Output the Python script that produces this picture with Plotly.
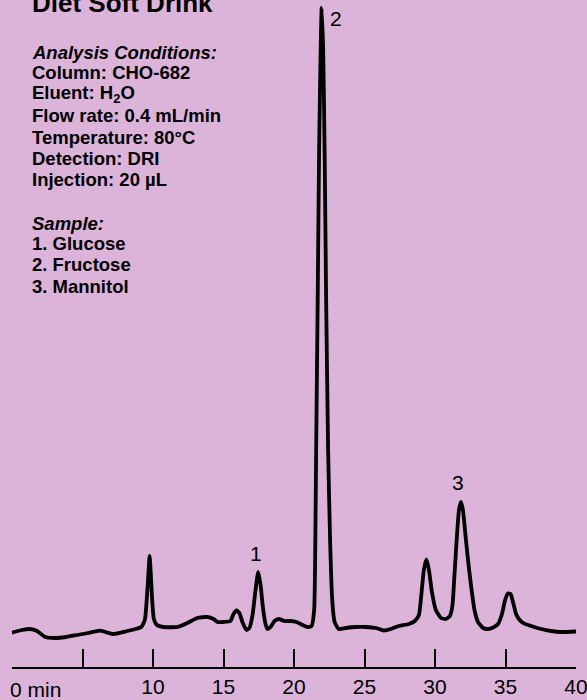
import plotly.graph_objects as go

# Chromatogram of a diet soft drink: retention time (min) vs detector response
time_min = [
    0.00, 0.71, 1.28, 1.78, 2.35, 3.06, 3.84, 4.62, 5.40, 6.25, 7.18, 8.17, 8.88,
    9.17, 9.42, 9.57, 9.69, 9.76, 9.83, 9.93, 10.06, 10.28, 10.75,
    11.73, 12.44, 13.15, 13.86, 14.29, 14.57, 15.00, 15.49, 15.71, 15.92, 16.13,
    16.34, 16.63, 16.84, 17.06, 17.27, 17.46, 17.63, 17.80, 17.98, 18.12, 18.34,
    18.62, 18.91, 19.33, 19.76, 20.18, 20.61, 20.97, 21.25,
    21.43, 21.50, 21.57, 21.68, 21.78, 21.89, 21.96, 22.07, 22.17, 22.28, 22.42,
    22.56, 22.71, 22.88, 23.17, 23.67, 24.38, 25.09, 25.80, 26.37, 26.87, 27.43,
    28.15, 28.57, 28.86, 29.03, 29.21, 29.39, 29.57, 29.78, 30.06, 30.42, 30.77,
    31.06, 31.24, 31.38, 31.56, 31.70, 31.84, 31.98, 32.16, 32.34, 32.55, 32.80,
    33.05, 33.41, 33.76, 34.12, 34.47, 34.75, 34.97, 35.18, 35.36, 35.55, 35.75,
    35.95, 36.25, 36.82, 37.53, 38.24, 38.95, 40.00,
]
response = [
    -2.7, 0, 1, -1, -7, -8, -7, -5, -3, -0.7, -4, -1, 1.5,
    3, 10, 33, 60, 74, 60, 33, 11, 5, 3,
    3, 7, 12, 13, 11, 8, 8, 9, 16, 19.5, 17,
    8, 0, 2, 15, 40, 58, 45, 22, 6, 1, 3,
    9, 11, 9, 9, 8, 5, 3, 4,
    20, 70, 180, 330, 480, 580, 622, 580, 480, 330, 180,
    90, 30, 8, 1, 2, 3, 3, 2, -0.5, 1, 4,
    6, 9, 15, 35, 60, 70.5, 60, 38, 20, 12, 11,
    14, 25, 55, 95, 120, 128, 120, 95, 70, 45, 20,
    8, 2, 1, 2.5, 6, 16, 30, 36.5, 36, 27, 16,
    11, 7, 4, 1, -1, -2, -1.5,
]

# Numbered peak labels: (time, height above peak, text)
peak_label_time = [17.34, 22.98, 31.63]
peak_label_y = [77, 612, 147.5]
peak_label_text = ["1", "2", "3"]

tick_vals = [0, 5, 10, 15, 20, 25, 30, 35, 40]
tick_text = ["", "", "10", "15", "20", "25", "30", "35", "40"]

title_text = "Diet Soft Drink"
info_lines = [
    ("<b><i>Analysis Conditions:</i></b>", 52),
    ("<b>Column: CHO-682</b>", 72.5),
    ("<b>Eluent: H<sub>2</sub>O</b>", 94),
    ("<b>Flow rate: 0.4 mL/min</b>", 115.7),
    ("<b>Temperature: 80°C</b>", 137),
    ("<b>Detection: DRI</b>", 158.7),
    ("<b>Injection: 20 µL</b>", 179.7),
    ("<b><i>Sample:</i></b>", 223),
    ("<b>1. Glucose</b>", 243.7),
    ("<b>2. Fructose</b>", 264.7),
    ("<b>3. Mannitol</b>", 286.3),
]

BG = "#DCB3D9"
FONT = "Liberation Sans, Arial, Helvetica, sans-serif"
W, H = 587, 700

fig = go.Figure()
fig.add_trace(go.Scatter(
    x=time_min, y=response, mode="lines",
    line=dict(color="black", width=3.8, shape="spline", smoothing=0.5),
    hoverinfo="skip", showlegend=False,
))

annotations = []
for t, y, txt in zip(peak_label_time, peak_label_y, peak_label_text):
    annotations.append(dict(
        x=t, y=y, xref="x", yref="y", text=txt, showarrow=False,
        xanchor="center", yanchor="middle",
        font=dict(family=FONT, size=21, color="black"),
    ))

# Title block and analysis conditions, positioned in pixels from the top-left
annotations.append(dict(
    x=0, y=1, xref="paper", yref="paper", xshift=18, yshift=-3,
    text="<b>" + title_text + "</b>", showarrow=False,
    xanchor="left", yanchor="middle",
    font=dict(family=FONT, size=26, color="black"),
))
for txt, cy in info_lines:
    annotations.append(dict(
        x=0, y=1, xref="paper", yref="paper", xshift=18, yshift=-cy,
        text=txt, showarrow=False, xanchor="left", yanchor="middle",
        font=dict(family=FONT, size=18.5, color="black"),
    ))

# "0 min" label starts at the first tick rather than being centred on it
annotations.append(dict(
    x=0, y=0, xref="x", yref="paper", xshift=-4, yshift=-22,
    text="0 min", showarrow=False, xanchor="left", yanchor="middle",
    font=dict(family=FONT, size=21, color="black"),
))

fig.update_layout(
    width=W, height=H,
    margin=dict(l=12, r=11, t=0, b=33),
    paper_bgcolor=BG, plot_bgcolor=BG,
    annotations=annotations,
    xaxis=dict(
        range=[0, 40], tickvals=tick_vals, ticktext=tick_text,
        showline=True, linecolor="black", linewidth=2,
        ticks="inside", ticklen=18, tickwidth=2, tickcolor="black",
        showgrid=False, zeroline=False, ticklabeloverflow="allow",
        tickfont=dict(family=FONT, size=21, color="black"),
    ),
    yaxis=dict(range=[-37, 630], visible=False),
)

fig.write_html("out.html")
